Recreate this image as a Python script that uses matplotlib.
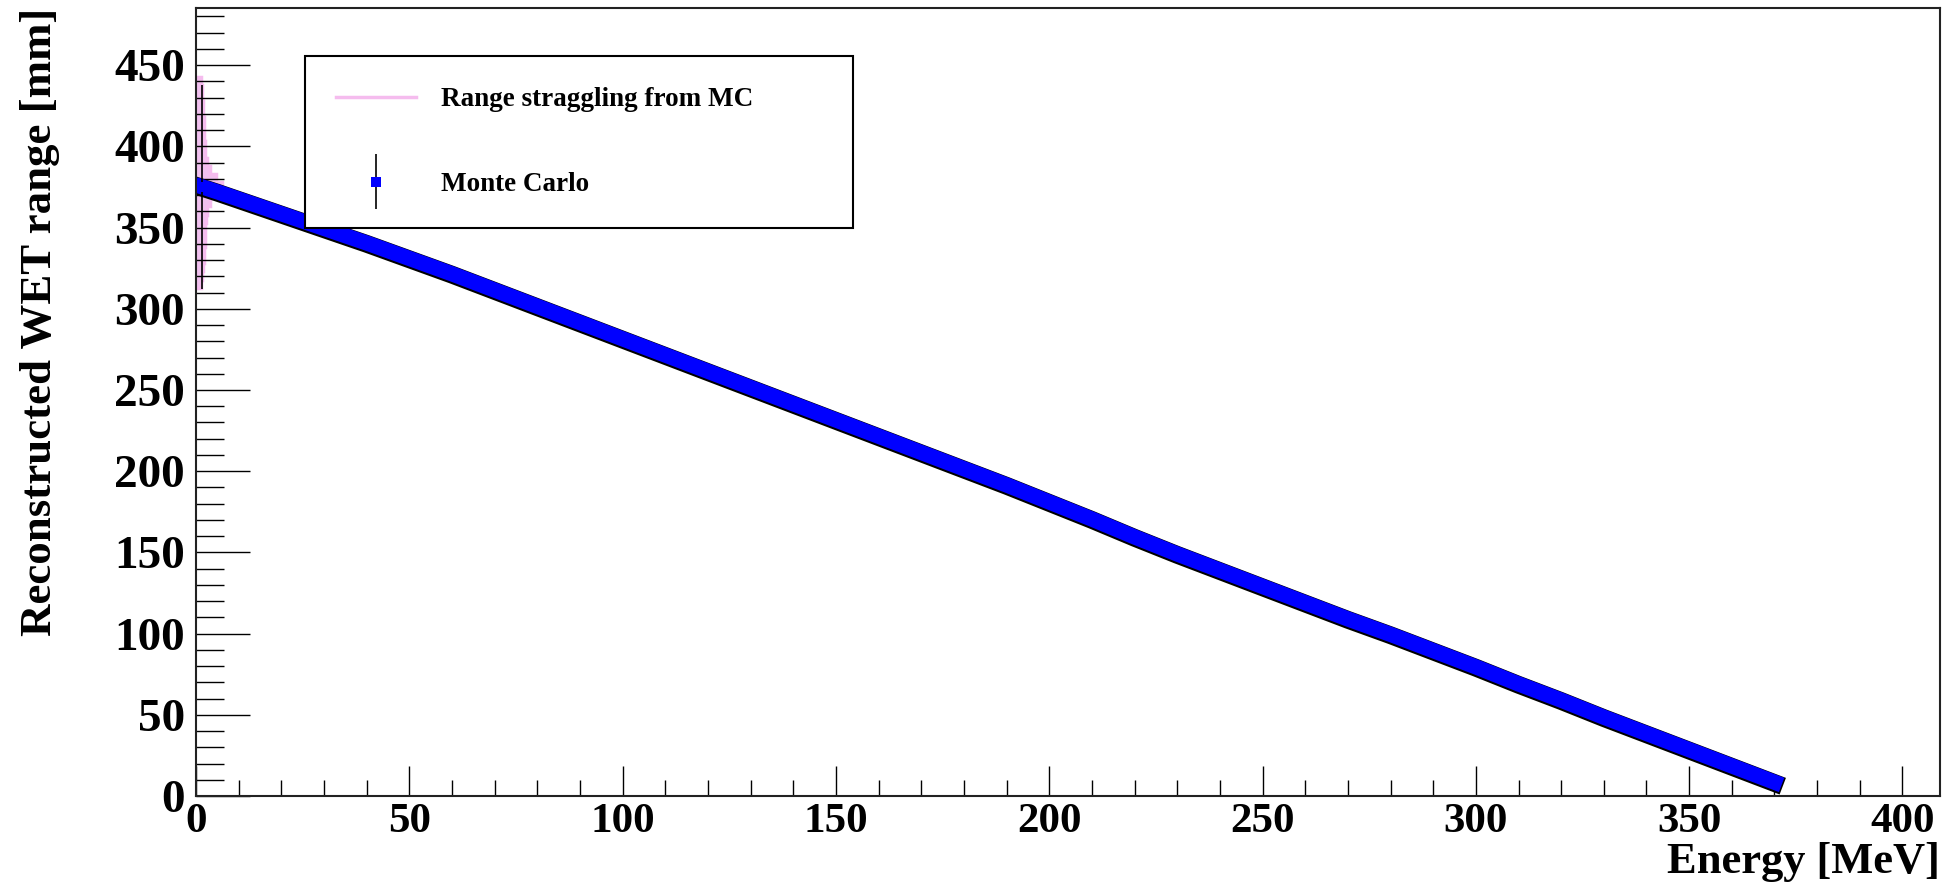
import numpy as np
import matplotlib.pyplot as plt
import matplotlib.patheffects as pe
from matplotlib.legend_handler import HandlerErrorbar
from matplotlib.container import ErrorbarContainer
from matplotlib.ticker import MultipleLocator

plt.rcParams['font.family'] = 'Liberation Serif'
plt.rcParams['font.weight'] = 'bold'

# Monte Carlo: reconstructed WET range vs energy
energy = [1.5, 5, 10, 20, 30, 40, 50, 60, 70, 80, 90, 100, 110, 120, 130,
          140, 150, 160, 170, 180, 190, 200, 210, 220, 230, 240, 250, 260,
          270, 280, 290, 300, 310, 320, 330, 340, 350, 360, 365, 370]
wet_range = [375, 372, 367.5, 358.5, 349.5, 340.5, 331, 321.5, 311.5, 301.5,
             291.5, 281.5, 271.5, 261.5, 251.5, 241.5, 231.5, 221.5, 211.5,
             201.5, 191.5, 181, 170.5, 159.5, 149, 139, 129, 119, 109, 99.5,
             89.5, 79.5, 69, 59, 48.5, 38.5, 28.5, 18.5, 13.5, 8.5]
wet_err = [63, 3, 3, 3, 3, 3, 3, 3, 3, 3, 3, 3, 3, 3, 3, 3, 3, 3, 3, 3,
           3, 3, 3, 3, 3, 3, 3, 3, 3, 3, 3, 3, 3, 3, 3, 3, 3, 3, 3, 3]

# range straggling distribution at zero energy (drawn sideways)
straggle_edges = [313, 318, 323, 328, 333, 338, 343, 348, 353, 358, 363, 368,
                  373, 378, 383, 388, 393, 398, 403, 408, 413, 418, 423, 428,
                  433, 438, 443]
straggle_height = [1.2, 1.4, 1.6, 1.8, 1.9, 2.0, 2.1, 2.2, 2.3, 2.6, 3.2, 4.5,
                   6.0, 4.8, 3.2, 2.6, 2.2, 2.0, 1.9, 1.9, 1.8, 1.7, 1.6, 1.5,
                   1.4, 1.2]

W, H = 1952, 890
fig = plt.figure(figsize=(W / 100, H / 100), dpi=100)
ax = fig.add_axes([196 / W, 1 - 796 / H, (1940 - 196) / W, (796 - 8) / H])

ax.stairs(straggle_height, straggle_edges, orientation='horizontal',
          fill=True, color='#f0c0ee', zorder=1)
strag = ax.stairs(straggle_height, straggle_edges, orientation='horizontal',
                  fill=False, color='#f5bcee', lw=2.5, zorder=1.5,
                  label='Range straggling from MC')

ax.plot(energy, wet_range, color='#0000ff', lw=11, solid_capstyle='projecting',
        zorder=2,
        path_effects=[pe.Stroke(linewidth=12.8, foreground='black', offset=(0, -0.6)),
                      pe.Normal()])
mc = ax.errorbar(energy, wet_range, yerr=wet_err, fmt='s', color='#0000ff',
                 ms=7, mew=0, ecolor='black', elinewidth=1.2, capsize=0,
                 zorder=3, label='Monte Carlo')

ax.set_xlim(0, 408.8)
ax.set_ylim(0, 485.2)

ax.xaxis.set_major_locator(MultipleLocator(50))
ax.xaxis.set_minor_locator(MultipleLocator(10))
ax.yaxis.set_major_locator(MultipleLocator(50))
ax.yaxis.set_minor_locator(MultipleLocator(10))
ax.tick_params(axis='x', which='major', direction='in', length=21.5, width=1,
               labelsize=31, pad=5)
ax.tick_params(axis='x', which='minor', direction='in', length=11.5, width=1)
ax.tick_params(axis='y', which='major', direction='in', length=39, width=1,
               labelsize=34, pad=8)
ax.tick_params(axis='y', which='minor', direction='in', length=20, width=1)
for s in ax.spines.values():
    s.set_linewidth(1.5)
    s.set_color('#222222')

ax.set_xlabel('Energy [MeV]', loc='right', fontsize=32, fontweight='bold')
ax.xaxis.set_label_coords(1.0, -0.058)
ax.set_ylabel('Reconstructed WET range [mm]', loc='top', fontsize=32.3,
              fontweight='bold')
ax.yaxis.set_label_coords(-0.078, 1.0)

leg = ax.legend([strag, mc], ['Range straggling from MC', 'Monte Carlo'],
                loc='upper left',
                bbox_to_anchor=(305 / W, 1 - 56 / H, 548 / W, 0),
                bbox_transform=fig.transFigure, mode='expand', borderaxespad=0,
                prop={'family': 'Liberation Serif', 'weight': 'bold', 'size': 19.5},
                fancybox=False, shadow=False, framealpha=1, edgecolor='black',
                borderpad=1.15, labelspacing=2.21,
                handlelength=2.95, handletextpad=0.92,
                handler_map={ErrorbarContainer: HandlerErrorbar(yerr_size=1.0)})
leg.get_frame().set_linewidth(1.5)

fig.savefig('out.png', dpi=100)
